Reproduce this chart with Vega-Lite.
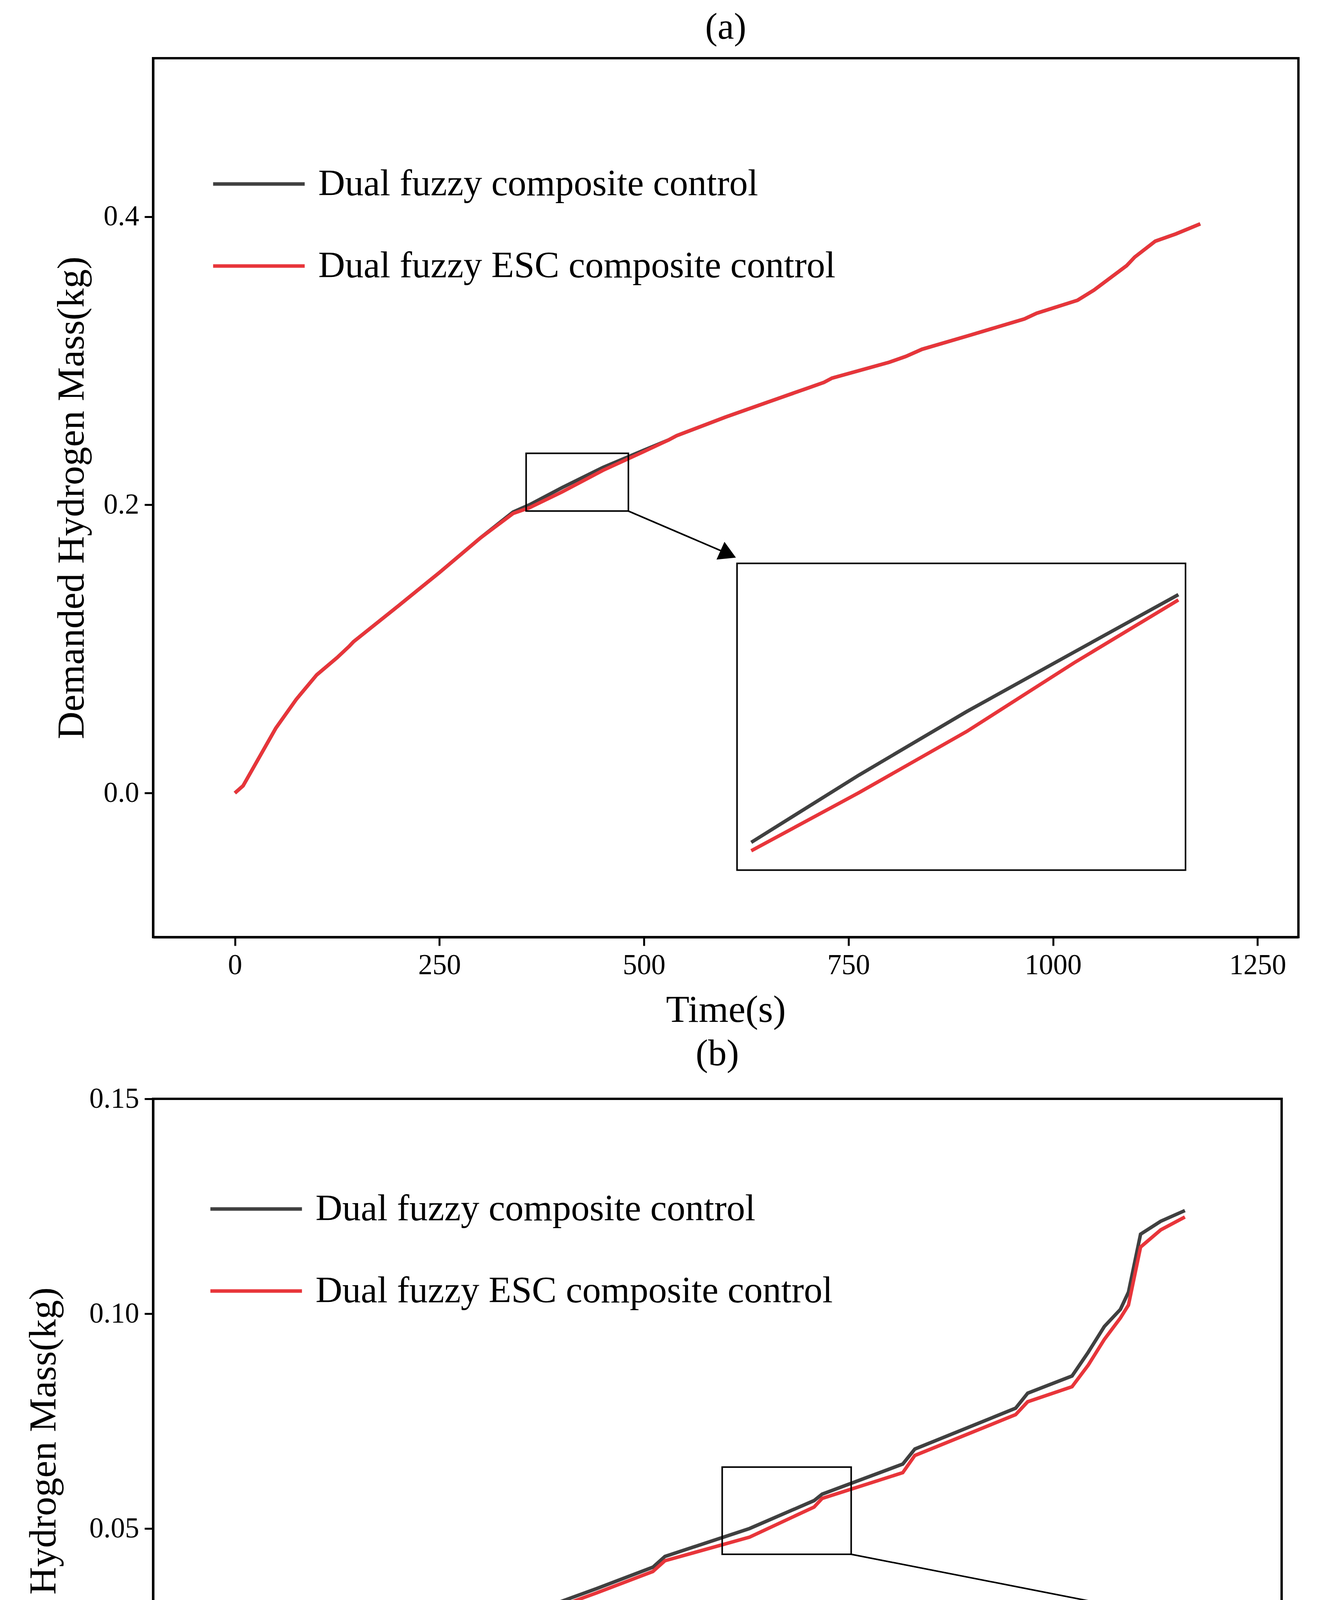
{
  "$schema": "https://vega.github.io/schema/vega-lite/v6.json",
  "background": "white",
  "padding": {"left": 60, "top": 20, "right": 60, "bottom": 10},
  "spacing": 10,
  "config": {
    "font": "Liberation Serif",
    "view": {"stroke": "black", "strokeWidth": 6},
    "title": {"fontSize": 95, "font": "Liberation Serif", "fontWeight": "normal", "offset": 30},
    "axis": {
      "labelFont": "Liberation Serif", "labelFontSize": 73, "labelColor": "black",
      "titleFont": "Liberation Serif", "titleFontSize": 98, "titleFontWeight": "normal", "titleColor": "black",
      "domainColor": "black", "domainWidth": 6, "tickColor": "black", "tickWidth": 5, "tickSize": 22,
      "grid": false, "labelPadding": 14
    },
    "legend": {"labelFont": "Liberation Serif", "labelFontSize": 95, "labelColor": "black", "labelLimit": 0, "symbolType": "stroke", "symbolSize": 55000, "symbolStrokeWidth": 9, "rowPadding": 40, "labelOffset": 30, "title": null}
  },
  "datasets": {
    "a": [
      {"t": 0, "v": 0, "s": "Dual fuzzy composite control"},
      {"t": 10, "v": 0.005, "s": "Dual fuzzy composite control"},
      {"t": 50, "v": 0.045, "s": "Dual fuzzy composite control"},
      {"t": 75, "v": 0.065, "s": "Dual fuzzy composite control"},
      {"t": 100, "v": 0.082, "s": "Dual fuzzy composite control"},
      {"t": 125, "v": 0.094, "s": "Dual fuzzy composite control"},
      {"t": 140, "v": 0.102, "s": "Dual fuzzy composite control"},
      {"t": 145, "v": 0.105, "s": "Dual fuzzy composite control"},
      {"t": 200, "v": 0.13, "s": "Dual fuzzy composite control"},
      {"t": 250, "v": 0.153, "s": "Dual fuzzy composite control"},
      {"t": 300, "v": 0.177, "s": "Dual fuzzy composite control"},
      {"t": 340, "v": 0.195, "s": "Dual fuzzy composite control"},
      {"t": 360, "v": 0.2, "s": "Dual fuzzy composite control"},
      {"t": 400, "v": 0.212, "s": "Dual fuzzy composite control"},
      {"t": 450, "v": 0.226, "s": "Dual fuzzy composite control"},
      {"t": 500, "v": 0.238, "s": "Dual fuzzy composite control"},
      {"t": 530, "v": 0.245, "s": "Dual fuzzy composite control"},
      {"t": 540, "v": 0.248, "s": "Dual fuzzy composite control"},
      {"t": 600, "v": 0.261, "s": "Dual fuzzy composite control"},
      {"t": 650, "v": 0.271, "s": "Dual fuzzy composite control"},
      {"t": 700, "v": 0.281, "s": "Dual fuzzy composite control"},
      {"t": 720, "v": 0.285, "s": "Dual fuzzy composite control"},
      {"t": 730, "v": 0.288, "s": "Dual fuzzy composite control"},
      {"t": 800, "v": 0.299, "s": "Dual fuzzy composite control"},
      {"t": 820, "v": 0.303, "s": "Dual fuzzy composite control"},
      {"t": 840, "v": 0.308, "s": "Dual fuzzy composite control"},
      {"t": 900, "v": 0.318, "s": "Dual fuzzy composite control"},
      {"t": 965, "v": 0.329, "s": "Dual fuzzy composite control"},
      {"t": 980, "v": 0.333, "s": "Dual fuzzy composite control"},
      {"t": 1030, "v": 0.342, "s": "Dual fuzzy composite control"},
      {"t": 1050, "v": 0.349, "s": "Dual fuzzy composite control"},
      {"t": 1090, "v": 0.366, "s": "Dual fuzzy composite control"},
      {"t": 1100, "v": 0.372, "s": "Dual fuzzy composite control"},
      {"t": 1125, "v": 0.383, "s": "Dual fuzzy composite control"},
      {"t": 1150, "v": 0.388, "s": "Dual fuzzy composite control"},
      {"t": 1180, "v": 0.395, "s": "Dual fuzzy composite control"},
      {"t": 0, "v": 0, "s": "Dual fuzzy ESC composite control"},
      {"t": 10, "v": 0.005, "s": "Dual fuzzy ESC composite control"},
      {"t": 50, "v": 0.045, "s": "Dual fuzzy ESC composite control"},
      {"t": 75, "v": 0.065, "s": "Dual fuzzy ESC composite control"},
      {"t": 100, "v": 0.082, "s": "Dual fuzzy ESC composite control"},
      {"t": 125, "v": 0.094, "s": "Dual fuzzy ESC composite control"},
      {"t": 140, "v": 0.102, "s": "Dual fuzzy ESC composite control"},
      {"t": 145, "v": 0.105, "s": "Dual fuzzy ESC composite control"},
      {"t": 200, "v": 0.13, "s": "Dual fuzzy ESC composite control"},
      {"t": 250, "v": 0.153, "s": "Dual fuzzy ESC composite control"},
      {"t": 300, "v": 0.177, "s": "Dual fuzzy ESC composite control"},
      {"t": 340, "v": 0.194, "s": "Dual fuzzy ESC composite control"},
      {"t": 360, "v": 0.198, "s": "Dual fuzzy ESC composite control"},
      {"t": 400, "v": 0.209, "s": "Dual fuzzy ESC composite control"},
      {"t": 450, "v": 0.224, "s": "Dual fuzzy ESC composite control"},
      {"t": 500, "v": 0.237, "s": "Dual fuzzy ESC composite control"},
      {"t": 530, "v": 0.245, "s": "Dual fuzzy ESC composite control"},
      {"t": 540, "v": 0.248, "s": "Dual fuzzy ESC composite control"},
      {"t": 600, "v": 0.261, "s": "Dual fuzzy ESC composite control"},
      {"t": 650, "v": 0.271, "s": "Dual fuzzy ESC composite control"},
      {"t": 700, "v": 0.281, "s": "Dual fuzzy ESC composite control"},
      {"t": 720, "v": 0.285, "s": "Dual fuzzy ESC composite control"},
      {"t": 730, "v": 0.288, "s": "Dual fuzzy ESC composite control"},
      {"t": 800, "v": 0.299, "s": "Dual fuzzy ESC composite control"},
      {"t": 820, "v": 0.303, "s": "Dual fuzzy ESC composite control"},
      {"t": 840, "v": 0.308, "s": "Dual fuzzy ESC composite control"},
      {"t": 900, "v": 0.318, "s": "Dual fuzzy ESC composite control"},
      {"t": 965, "v": 0.329, "s": "Dual fuzzy ESC composite control"},
      {"t": 980, "v": 0.333, "s": "Dual fuzzy ESC composite control"},
      {"t": 1030, "v": 0.342, "s": "Dual fuzzy ESC composite control"},
      {"t": 1050, "v": 0.349, "s": "Dual fuzzy ESC composite control"},
      {"t": 1090, "v": 0.366, "s": "Dual fuzzy ESC composite control"},
      {"t": 1100, "v": 0.372, "s": "Dual fuzzy ESC composite control"},
      {"t": 1125, "v": 0.383, "s": "Dual fuzzy ESC composite control"},
      {"t": 1150, "v": 0.388, "s": "Dual fuzzy ESC composite control"},
      {"t": 1180, "v": 0.395, "s": "Dual fuzzy ESC composite control"}
    ],
    "a_inset": [
      {"t": 360, "v": 0.1993, "s": "black"},
      {"t": 390, "v": 0.2081, "s": "black"},
      {"t": 420, "v": 0.2164, "s": "black"},
      {"t": 450, "v": 0.2242, "s": "black"},
      {"t": 479, "v": 0.2317, "s": "black"},
      {"t": 360, "v": 0.1982, "s": "red"},
      {"t": 390, "v": 0.2058, "s": "red"},
      {"t": 420, "v": 0.2138, "s": "red"},
      {"t": 450, "v": 0.2228, "s": "red"},
      {"t": 479, "v": 0.231, "s": "red"}
    ],
    "b": [
      {"t": 0, "v": 0, "s": "Dual fuzzy composite control"},
      {"t": 60, "v": 0.005, "s": "Dual fuzzy composite control"},
      {"t": 130, "v": 0.011, "s": "Dual fuzzy composite control"},
      {"t": 140, "v": 0.0125, "s": "Dual fuzzy composite control"},
      {"t": 250, "v": 0.021, "s": "Dual fuzzy composite control"},
      {"t": 330, "v": 0.027, "s": "Dual fuzzy composite control"},
      {"t": 340, "v": 0.0285, "s": "Dual fuzzy composite control"},
      {"t": 450, "v": 0.036, "s": "Dual fuzzy composite control"},
      {"t": 520, "v": 0.041, "s": "Dual fuzzy composite control"},
      {"t": 535, "v": 0.0435, "s": "Dual fuzzy composite control"},
      {"t": 640, "v": 0.05, "s": "Dual fuzzy composite control"},
      {"t": 720, "v": 0.0565, "s": "Dual fuzzy composite control"},
      {"t": 730, "v": 0.058, "s": "Dual fuzzy composite control"},
      {"t": 830, "v": 0.065, "s": "Dual fuzzy composite control"},
      {"t": 845, "v": 0.0685, "s": "Dual fuzzy composite control"},
      {"t": 970, "v": 0.078, "s": "Dual fuzzy composite control"},
      {"t": 985, "v": 0.0815, "s": "Dual fuzzy composite control"},
      {"t": 1040, "v": 0.0855, "s": "Dual fuzzy composite control"},
      {"t": 1060, "v": 0.091, "s": "Dual fuzzy composite control"},
      {"t": 1080, "v": 0.097, "s": "Dual fuzzy composite control"},
      {"t": 1100, "v": 0.101, "s": "Dual fuzzy composite control"},
      {"t": 1110, "v": 0.105, "s": "Dual fuzzy composite control"},
      {"t": 1125, "v": 0.1185, "s": "Dual fuzzy composite control"},
      {"t": 1150, "v": 0.1215, "s": "Dual fuzzy composite control"},
      {"t": 1180, "v": 0.124, "s": "Dual fuzzy composite control"},
      {"t": 0, "v": 0, "s": "Dual fuzzy ESC composite control"},
      {"t": 60, "v": 0.005, "s": "Dual fuzzy ESC composite control"},
      {"t": 130, "v": 0.010, "s": "Dual fuzzy ESC composite control"},
      {"t": 140, "v": 0.012, "s": "Dual fuzzy ESC composite control"},
      {"t": 250, "v": 0.0195, "s": "Dual fuzzy ESC composite control"},
      {"t": 330, "v": 0.026, "s": "Dual fuzzy ESC composite control"},
      {"t": 340, "v": 0.0275, "s": "Dual fuzzy ESC composite control"},
      {"t": 450, "v": 0.035, "s": "Dual fuzzy ESC composite control"},
      {"t": 520, "v": 0.040, "s": "Dual fuzzy ESC composite control"},
      {"t": 535, "v": 0.0425, "s": "Dual fuzzy ESC composite control"},
      {"t": 640, "v": 0.048, "s": "Dual fuzzy ESC composite control"},
      {"t": 720, "v": 0.055, "s": "Dual fuzzy ESC composite control"},
      {"t": 730, "v": 0.057, "s": "Dual fuzzy ESC composite control"},
      {"t": 830, "v": 0.063, "s": "Dual fuzzy ESC composite control"},
      {"t": 845, "v": 0.067, "s": "Dual fuzzy ESC composite control"},
      {"t": 970, "v": 0.0765, "s": "Dual fuzzy ESC composite control"},
      {"t": 985, "v": 0.0795, "s": "Dual fuzzy ESC composite control"},
      {"t": 1040, "v": 0.083, "s": "Dual fuzzy ESC composite control"},
      {"t": 1060, "v": 0.088, "s": "Dual fuzzy ESC composite control"},
      {"t": 1080, "v": 0.094, "s": "Dual fuzzy ESC composite control"},
      {"t": 1100, "v": 0.099, "s": "Dual fuzzy ESC composite control"},
      {"t": 1110, "v": 0.102, "s": "Dual fuzzy ESC composite control"},
      {"t": 1125, "v": 0.1155, "s": "Dual fuzzy ESC composite control"},
      {"t": 1150, "v": 0.1195, "s": "Dual fuzzy ESC composite control"},
      {"t": 1180, "v": 0.1225, "s": "Dual fuzzy ESC composite control"}
    ],
    "b_inset": [
      {"t": 607, "v": 0.0479, "s": "black"},
      {"t": 670, "v": 0.0517, "s": "black"},
      {"t": 720, "v": 0.0552, "s": "black"},
      {"t": 730, "v": 0.0562, "s": "black"},
      {"t": 745, "v": 0.0582, "s": "black"},
      {"t": 750, "v": 0.0598, "s": "black"},
      {"t": 765, "v": 0.0609, "s": "black"},
      {"t": 607, "v": 0.0464, "s": "red"},
      {"t": 630, "v": 0.0475, "s": "red"},
      {"t": 670, "v": 0.0488, "s": "red"},
      {"t": 700, "v": 0.0500, "s": "red"},
      {"t": 730, "v": 0.0525, "s": "red"},
      {"t": 745, "v": 0.0548, "s": "red"},
      {"t": 752, "v": 0.0575, "s": "red"},
      {"t": 765, "v": 0.0591, "s": "red"}
    ]
  },
  "vconcat": [
    {
      "title": "(a)",
      "width": 2933,
      "height": 2250,
      "layer": [
        {
          "layer": [
            {
              "data": {"name": "a"},
              "mark": {"type": "line", "strokeWidth": 9},
              "encoding": {
                "x": {"field": "t", "type": "quantitative", "title": "Time(s)", "scale": {"domain": [-100, 1300], "nice": false, "zero": false}, "axis": {"values": [0, 250, 500, 750, 1000, 1250], "format": "d", "titlePadding": 30}},
                "y": {"field": "v", "type": "quantitative", "title": "Demanded Hydrogen Mass(kg)", "scale": {"domain": [-0.1, 0.51], "nice": false, "zero": false}, "axis": {"values": [0, 0.2, 0.4], "format": ".1f", "titlePadding": 30}},
                "color": {"field": "s", "type": "nominal", "scale": {"domain": ["Dual fuzzy composite control", "Dual fuzzy ESC composite control"], "range": ["#404040", "#e8353a"]}, "legend": {"orient": "none", "legendX": 149, "legendY": 200}},
                "order": {"field": "t", "type": "quantitative"}
              }
            },
            {
              "data": {"values": [{"x": 356, "x2": 481, "y": 0.1957, "y2": 0.2358}, {"x": 613.8, "x2": 1162, "y": -0.0535, "y2": 0.1594}]},
              "mark": {"type": "rect", "fill": null, "stroke": "black", "strokeWidth": 4},
              "encoding": {"x": {"field": "x", "type": "quantitative"}, "x2": {"field": "x2"}, "y": {"field": "y", "type": "quantitative"}, "y2": {"field": "y2"}}
            },
            {
              "data": {"values": [{"x": 481, "y": 0.1957, "x2": 605, "y2": 0.1655}]},
              "mark": {"type": "rule", "stroke": "black", "strokeWidth": 4},
              "encoding": {"x": {"field": "x", "type": "quantitative"}, "x2": {"field": "x2"}, "y": {"field": "y", "type": "quantitative"}, "y2": {"field": "y2"}}
            },
            {
              "data": {"values": [{"x": 603, "y": 0.1658}]},
              "mark": {"type": "point", "shape": "triangle-right", "filled": true, "color": "black", "size": 2500, "angle": 24, "opacity": 1},
              "encoding": {"x": {"field": "x", "type": "quantitative"}, "y": {"field": "y", "type": "quantitative"}}
            }
          ]
        },
        {
          "data": {"name": "a_inset"},
          "mark": {"type": "line", "strokeWidth": 9},
          "encoding": {
            "x": {"field": "t", "type": "quantitative", "scale": {"domain": [356, 481], "range": [1495, 2644], "nice": false, "zero": false}, "axis": null},
            "y": {"field": "v", "type": "quantitative", "scale": {"domain": [0.1957, 0.2358], "range": [2078, 1293], "nice": false, "zero": false}, "axis": null},
            "color": {"field": "s", "type": "nominal", "scale": {"domain": ["black", "red"], "range": ["#404040", "#e8353a"]}, "legend": null},
            "order": {"field": "t", "type": "quantitative"}
          }
        }
      ],
      "resolve": {"scale": {"x": "independent", "y": "independent", "color": "independent"}}
    },
    {
      "title": "(b)",
      "width": 2890,
      "height": 2200,
      "layer": [
        {
          "layer": [
            {
              "data": {"name": "b"},
              "mark": {"type": "line", "strokeWidth": 9},
              "encoding": {
                "x": {"field": "t", "type": "quantitative", "title": "Time(s)", "scale": {"domain": [-100, 1300], "nice": false, "zero": false}, "axis": {"values": [0, 250, 500, 750, 1000, 1250], "format": "d", "titlePadding": 30}},
                "y": {"field": "v", "type": "quantitative", "title": "Demanded Hydrogen Mass(kg)", "scale": {"domain": [-0.05, 0.15], "nice": false, "zero": false}, "axis": {"values": [-0.05, 0, 0.05, 0.1, 0.15], "format": ".2f", "titlePadding": 30}},
                "color": {"field": "s", "type": "nominal", "scale": {"domain": ["Dual fuzzy composite control", "Dual fuzzy ESC composite control"], "range": ["#404040", "#e8353a"]}, "legend": {"orient": "none", "legendX": 142, "legendY": 160}},
                "order": {"field": "t", "type": "quantitative"}
              }
            },
            {
              "data": {"values": [{"x": 606, "x2": 766, "y": 0.044, "y2": 0.0643}, {"x": 648.7, "x2": 1172.6, "y": -0.0344, "y2": 0.0287}]},
              "mark": {"type": "rect", "fill": null, "stroke": "black", "strokeWidth": 4},
              "encoding": {"x": {"field": "x", "type": "quantitative"}, "x2": {"field": "x2"}, "y": {"field": "y", "type": "quantitative"}, "y2": {"field": "y2"}}
            },
            {
              "data": {"values": [{"x": 766, "y": 0.044, "x2": 1155, "y2": 0.0297}]},
              "mark": {"type": "rule", "stroke": "black", "strokeWidth": 4},
              "encoding": {"x": {"field": "x", "type": "quantitative"}, "x2": {"field": "x2"}, "y": {"field": "y", "type": "quantitative"}, "y2": {"field": "y2"}}
            },
            {
              "data": {"values": [{"x": 1152, "y": 0.0298}]},
              "mark": {"type": "point", "shape": "triangle-right", "filled": true, "color": "black", "size": 2500, "angle": 11, "opacity": 1},
              "encoding": {"x": {"field": "x", "type": "quantitative"}, "y": {"field": "y", "type": "quantitative"}}
            }
          ]
        },
        {
          "data": {"name": "b_inset"},
          "mark": {"type": "line", "strokeWidth": 9},
          "encoding": {
            "x": {"field": "t", "type": "quantitative", "scale": {"domain": [606, 766], "range": [1545, 2627], "nice": false, "zero": false}, "axis": null},
            "y": {"field": "v", "type": "quantitative", "scale": {"domain": [0.044, 0.0643], "range": [2029, 1334], "nice": false, "zero": false}, "axis": null},
            "color": {"field": "s", "type": "nominal", "scale": {"domain": ["black", "red"], "range": ["#404040", "#e8353a"]}, "legend": null},
            "order": {"field": "t", "type": "quantitative"}
          }
        }
      ],
      "resolve": {"scale": {"x": "independent", "y": "independent", "color": "independent"}}
    }
  ]
}
